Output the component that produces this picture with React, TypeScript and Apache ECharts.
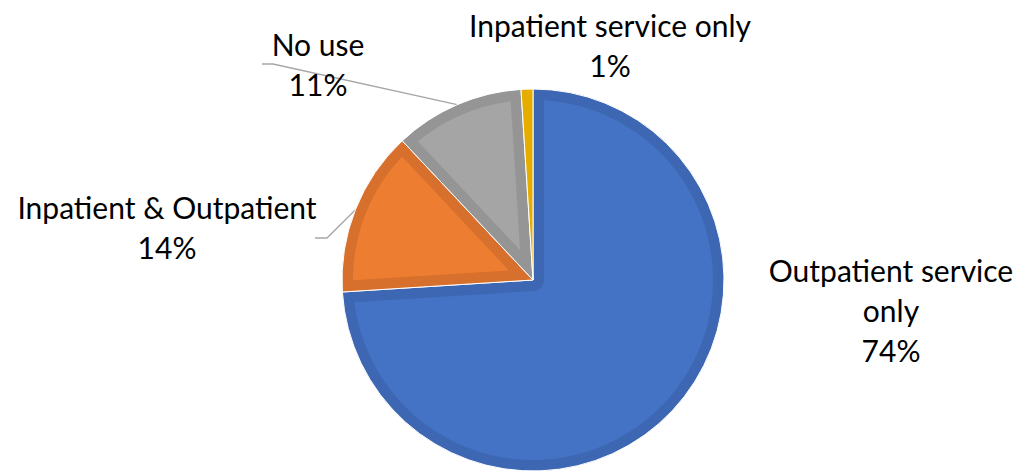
import React, { useEffect, useRef } from "react";
import * as echarts from "echarts";

const categories = ["Outpatient service only", "Inpatient & Outpatient", "No use", "Inpatient service only"];
const values = [74, 14, 11, 1];
const fillColors = ["#4472C4", "#ED7D31", "#A5A5A5", "#FFC000"];
const edgeColors = ["#3D67B3", "#D6702C", "#959595", "#E6AD00"];

// layout
const CX = 533;
const CY = 280;
const R = 191;
const INSET = 11;
const labelPos: number[][] = [
  [891, 310],
  [167, 227],
  [318, 64],
  [610, 45],
];
const leaderTail: (number[][] | null)[] = [
  null,
  [
    [327, 238],
    [315, 238],
  ],
  [
    [273, 64],
    [262, 64],
  ],
  null,
];

const total = values.reduce((a, b) => a + b, 0);
const startAngles = values.map((_, i) => (values.slice(0, i).reduce((a, b) => a + b, 0) / total) * Math.PI * 2);
const endAngles = values.map((_, i) => (values.slice(0, i + 1).reduce((a, b) => a + b, 0) / total) * Math.PI * 2);

const pt = (r: number, t: number) => [CX + r * Math.sin(t), CY - r * Math.cos(t)];

function insetPolygon(a0: number, a1: number): number[][] | null {
  const rr = R - INSET;
  const e = Math.asin(INSET / rr);
  const span = a1 - a0;
  if (span - 2 * e <= 0) return null;
  const pts: number[][] = [];
  const n = Math.max(8, Math.ceil((span - 2 * e) / 0.02));
  for (let i = 0; i <= n; i++) {
    const t = a0 + e + ((span - 2 * e) * i) / n;
    pts.push(pt(rr, t));
  }
  if (span < Math.PI) {
    const c = INSET / Math.sin(span / 2);
    if (c >= rr) return null;
    pts.push(pt(c, (a0 + a1) / 2));
  } else {
    const s = a1 - Math.PI / 2;
    const f = a0 + Math.PI / 2;
    const m = 12;
    for (let k = 0; k <= m; k++) {
      pts.push(pt(INSET, s + ((f - s) * k) / m));
    }
  }
  return pts;
}

export default function App() {
  const ref = useRef<HTMLDivElement>(null);
  useEffect(() => {
    if (!ref.current) return;
    const chart = echarts.init(ref.current, null, { renderer: "svg" });
    const option: any = {
      animation: false,
      backgroundColor: "#ffffff",
      series: [
        {
          type: "pie",
          center: [CX, CY],
          radius: [0, R],
          startAngle: 90,
          clockwise: true,
          avoidLabelOverlap: false,
          percentPrecision: 0,
          silent: true,
          z: 2,
          itemStyle: { borderColor: "#ffffff", borderWidth: 1 },
          label: {
            show: true,
            position: "outer",
            fontFamily: "Lato",
            fontSize: 30,
            lineHeight: 40,
            color: "#000000",
            align: "center",
            formatter: (p: any) =>
              (p.dataIndex === 0 ? p.name.replace("service only", "service\nonly") : p.name) + "\n" + p.percent + "%",
          },
          labelLine: {
            show: true,
            lineStyle: { color: "#A6A6A6", width: 1.3 },
          },
          labelLayout: (params: any) => {
            const i = params.dataIndex;
            const out: any = {
              x: labelPos[i][0],
              y: labelPos[i][1],
              align: "center",
              verticalAlign: "middle",
            };
            const tail = leaderTail[i];
            if (tail) {
              const mid = (startAngles[i] + endAngles[i]) / 2;
              out.labelLinePoints = [pt(R, mid), tail[0], tail[1]];
            }
            return out;
          },
          data: categories.map((name, i) => ({
            name,
            value: values[i],
            itemStyle: { color: edgeColors[i] },
            labelLine: { show: !!leaderTail[i] },
          })),
        },
        {
          type: "custom",
          coordinateSystem: "none",
          silent: true,
          z: 3,
          data: values.map((v) => [v]),
          renderItem: (params: any) => {
            const i = params.dataIndex;
            const pts = insetPolygon(startAngles[i], endAngles[i]);
            if (!pts) return { type: "group", children: [] };
            return {
              type: "polygon",
              shape: { points: pts },
              style: { fill: fillColors[i] },
            };
          },
        },
      ],
    };
    chart.setOption(option);
    return () => chart.dispose();
  }, []);
  return (
    <div
      ref={ref}
      style={{ position: "fixed", left: 0, top: 0, width: 1015, height: 473, background: "#fff" }}
    />
  );
}
